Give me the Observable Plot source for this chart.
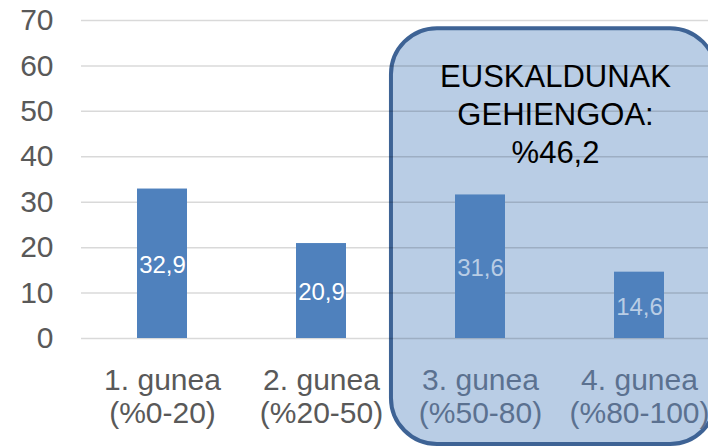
<!DOCTYPE html>
<html><head><meta charset="utf-8">
<script src="https://cdn.jsdelivr.net/npm/d3@7"></script>
<script src="https://cdn.jsdelivr.net/npm/@observablehq/plot@0.6"></script>
<style>html,body{margin:0;padding:0;overflow:hidden;background:#fff}</style>
</head><body><div id="chart"></div>
<script>
const zones = ["1. gunea", "2. gunea", "3. gunea", "4. gunea"];
const ranges = ["(%0-20)", "(%20-50)", "(%50-80)", "(%80-100)"];
const values = [32.9, 20.9, 31.6, 14.6];
const yTicks = [0, 10, 20, 30, 40, 50, 60, 70];
const highlightZones = ["3. gunea", "4. gunea"];
const highlightLines = ["EUSKALDUNAK", "GEHIENGOA:", "%46,2"];
const highlightTop = 68.2;

const data = zones.map((z, i) => ({
  zone: z, range: ranges[i], value: values[i],
  label: values[i].toFixed(1).replace(".", ","),
  inBox: highlightZones.includes(z)
}));

const font = "'Liberation Sans', Arial, sans-serif";

function boxGeom(scales, dim) {
  const x = scales.x, y = scales.y;
  const step = x.step ? x.step() : 159.5;
  const bw = x.bandwidth ? x.bandwidth() : 50;
  const c1 = x(highlightZones[0]) + bw / 2;
  const c2 = x(highlightZones[highlightZones.length - 1]) + bw / 2;
  const left = c1 - 0.56 * step, right = c2 + 0.485 * step;
  const top = y(highlightTop), bottom = dim.height - 3;
  return {left, right, top, bottom};
}

function highlightBox(index, scales, values, dim) {
  const b = boxGeom(scales, dim);
  const g = d3.create("svg:g");
  g.append("rect")
    .attr("x", b.left).attr("y", b.top)
    .attr("width", b.right - b.left).attr("height", b.bottom - b.top)
    .attr("rx", 46).attr("ry", 46)
    .attr("fill", "#b9cde5").attr("stroke", "#3e6395").attr("stroke-width", 4);
  return g.node();
}

function highlightText(index, scales, values, dim) {
  const b = boxGeom(scales, dim);
  const g = d3.create("svg:g")
    .attr("font-family", font).attr("font-size", 31)
    .attr("fill", "#000").attr("text-anchor", "middle");
  highlightLines.forEach((t, i) => {
    g.append("text")
      .attr("x", (b.left + b.right) / 2 + 2)
      .attr("y", b.top + 59 + 38 * i)
      .text(t);
  });
  return g.node();
}

const chart = Plot.plot({
  width: 708, height: 447,
  marginTop: 20, marginBottom: 109, marginLeft: 81, marginRight: -11,
  style: {fontFamily: font, fontSize: "30px", color: "#595959", background: "white"},
  x: {domain: zones, paddingInner: 0.686, paddingOuter: 0.343, axis: null},
  y: {domain: [0, 70], ticks: yTicks, tickSize: 0, tickPadding: 28, label: null},
  marks: [
    highlightBox,
    Plot.ruleY(yTicks, {stroke: "#000", strokeOpacity: 0.15, strokeWidth: 1.5}),
    Plot.barY(data, {x: "zone", y: "value", fill: "#4f81bd"}),
    Plot.text(data, {x: "zone", y: d => d.value / 2, text: "label",
      fill: d => d.inBox ? "#b9cde5" : "#ffffff", fontSize: 24, dy: 1.5}),
    Plot.text(data, {x: "zone", y: 0, text: d => d.zone + "\n" + d.range,
      lineAnchor: "top", dy: 28, lineHeight: 1.1, fontSize: 30,
      fill: d => d.inBox ? "#5b7190" : "#595959"}),
    highlightText
  ]
});
document.getElementById("chart").appendChild(chart);
</script>
</body></html>
